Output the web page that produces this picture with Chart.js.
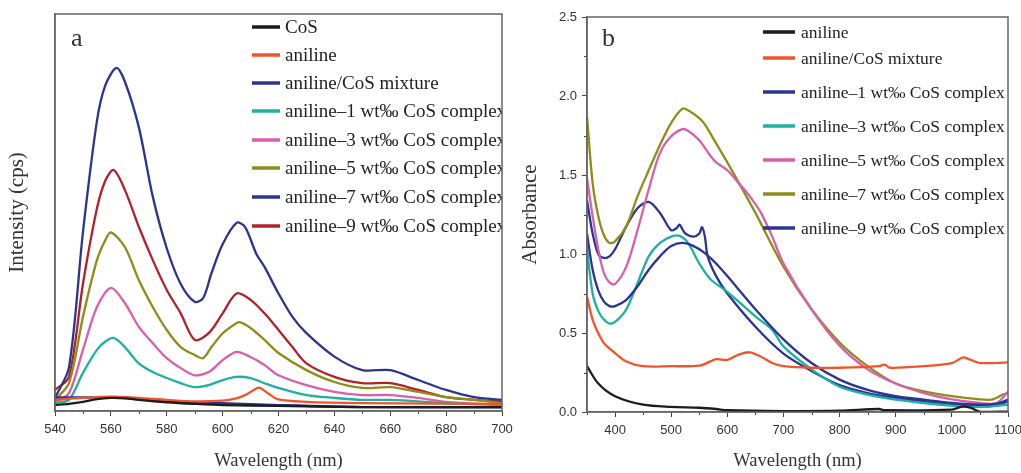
<!DOCTYPE html>
<html>
<head>
<meta charset="utf-8">
<script src="https://cdn.jsdelivr.net/npm/chart.js@4.4.1/dist/chart.umd.min.js"></script>
<style>
  body { margin: 0; background: #fff; width: 1021px; height: 473px; overflow: hidden; position: relative; }
  .panel { position: absolute; top: 0; height: 473px; }
  #wrapA { left: 0; width: 525px; }
  #wrapB { left: 510px; width: 511px; }
</style>
</head>
<body>
<div class="panel" id="wrapA"><canvas id="chartA" width="525" height="473"></canvas></div>
<div class="panel" id="wrapB"><canvas id="chartB" width="511" height="473"></canvas></div>
<script>
// --- Panel a: fluorescence, [wavelength nm, intensity a.u.] ---
const labelsA = ['CoS', 'aniline', 'aniline/CoS mixture', 'aniline\u20131 wt\u2030 CoS complex',
    'aniline\u20133 wt\u2030 CoS complex', 'aniline\u20135 wt\u2030 CoS complex',
    'aniline\u20137 wt\u2030 CoS complex', 'aniline\u20139 wt\u2030 CoS complex'];
const cosA = [[540,1.5],[545,1.8],[550,2.3],[555,3],[560,3.3],[565,3.2],[570,2.8],[580,2.2],[590,1.8],[600,1.5],[620,1.3],[650,1],[700,1]];
const anilineA = [[540,2.8],[550,3.3],[560,3.6],[570,3.3],[580,2.8],[590,2.4],[600,2.6],[605,3.2],[608,4],[610,4.8],[613,5.9],[616,4.6],[620,2.9],[630,2.3],[650,2],[700,1.8]];
const mixtureA = [[540,3.4],[550,3.4],[560,3.5],[570,3],[580,2.4],[600,2],[620,1.5],[650,1],[700,0.9]];
const wt1A = [[540,2],[545,2.8],[550,9.6],[555,15.4],[558,17.5],[561,18.4],[565,16.1],[570,12],[575,9.8],[580,8.3],[585,7],[590,6],[595,6.5],[600,7.8],[605,8.6],[610,8.3],[615,7],[620,5.8],[630,4],[640,3.3],[650,2.8],[660,2.8],[680,2],[700,1.5]];
const wt3A = [[540,2.3],[545,4.5],[550,15.4],[555,26.2],[560,31],[565,27.2],[570,21.2],[575,17.1],[580,13.3],[585,10.8],[590,9],[595,9.8],[600,12.8],[605,14.9],[610,13.6],[615,11.6],[620,9],[630,6.5],[640,4.8],[650,4],[660,4],[670,3.3],[680,2.3],[700,1.5]];
const wt5A = [[540,2.8],[545,7],[550,23.7],[555,38],[558,43],[560,45],[565,41.3],[570,33],[575,26.2],[580,20.4],[585,16.1],[590,14.1],[593,13.3],[596,16.1],[600,19.6],[603,21.2],[606,22.4],[610,20.9],[615,17.9],[620,14.6],[630,10.3],[640,7.3],[650,5.8],[660,6],[670,4.8],[680,3.5],[690,2.8],[700,2]];
const wt7A = [[540,3.3],[545,11],[550,45],[555,73],[558,82],[562,86.4],[565,83],[570,71.5],[575,54],[580,41],[585,32],[590,27.5],[593,28.4],[596,34.7],[600,42],[605,47.4],[608,46.4],[612,39.7],[615,36.3],[620,29.6],[625,23.7],[630,19.6],[640,13.7],[650,10.3],[660,10.3],[670,7.8],[680,5.3],[690,3.5],[700,2.8]];
const wt9A = [[540,5.3],[545,8.6],[550,32],[555,51],[558,58],[561,60.7],[565,55.7],[570,46.4],[575,38],[580,30.5],[585,24.6],[590,17.9],[595,19.6],[600,24.6],[605,29.6],[610,28],[615,24.6],[620,20.4],[625,16.1],[630,12],[640,8.6],[650,7],[660,7],[670,5.3],[680,3.5],[690,2.8],[700,2.3]];

// --- Panel b: absorbance, [wavelength nm, absorbance] ---
const labelsB = ['aniline', 'aniline/CoS mixture', 'aniline\u20131 wt\u2030 CoS complex',
    'aniline\u20133 wt\u2030 CoS complex', 'aniline\u20135 wt\u2030 CoS complex',
    'aniline\u20137 wt\u2030 CoS complex', 'aniline\u20139 wt\u2030 CoS complex'];
const anilineB = [[350,0.29],[370,0.18],[400,0.10],[450,0.046],[500,0.032],[550,0.027],[580,0.019],[600,0.011],[700,0.006],[800,0.008],[870,0.019],[880,0.011],[1000,0.015],[1020,0.036],[1035,0.025],[1050,0.002],[1100,0.002]];
const mixtureB = [[350,0.73],[360,0.585],[370,0.5],[380,0.437],[400,0.373],[420,0.32],[450,0.29],[500,0.29],[550,0.293],[570,0.32],[580,0.335],[600,0.33],[620,0.363],[640,0.378],[660,0.35],[680,0.31],[700,0.29],[750,0.28],[800,0.28],[870,0.29],[880,0.3],[890,0.28],[950,0.29],[1000,0.31],[1020,0.346],[1030,0.335],[1050,0.31],[1100,0.314]];
const wt1B = [[350,1.13],[360,0.9],[370,0.77],[380,0.7],[390,0.67],[400,0.67],[420,0.71],[440,0.795],[460,0.9],[480,0.985],[500,1.05],[520,1.07],[540,1.05],[560,1.006],[580,0.94],[600,0.86],[650,0.65],[700,0.46],[750,0.31],[800,0.205],[850,0.14],[900,0.1],[950,0.078],[1000,0.057],[1050,0.046],[1080,0.053],[1100,0.078]];
const wt3B = [[350,1.03],[360,0.75],[370,0.64],[380,0.585],[390,0.56],[400,0.57],[420,0.65],[440,0.815],[460,0.985],[480,1.07],[500,1.11],[515,1.115],[530,1.07],[550,0.94],[570,0.84],[600,0.76],[650,0.605],[680,0.52],[700,0.415],[750,0.27],[800,0.16],[850,0.11],[900,0.078],[950,0.057],[1000,0.04],[1050,0.032],[1100,0.046]];
const wt5B = [[350,1.48],[360,1.24],[370,1.03],[380,0.88],[390,0.82],[400,0.81],[420,0.92],[440,1.15],[460,1.41],[480,1.64],[500,1.745],[520,1.79],[530,1.78],[550,1.72],[570,1.62],[580,1.58],[600,1.53],[620,1.45],[640,1.365],[660,1.26],[680,1.11],[700,0.94],[750,0.65],[800,0.42],[850,0.27],[900,0.18],[950,0.12],[1000,0.08],[1050,0.057],[1080,0.057],[1100,0.13]];
const wt7B = [[350,1.87],[360,1.45],[370,1.24],[380,1.12],[390,1.07],[400,1.08],[420,1.175],[440,1.365],[460,1.53],[480,1.69],[500,1.83],[520,1.92],[530,1.91],[550,1.86],[560,1.82],[580,1.7],[600,1.58],[650,1.26],[700,0.92],[750,0.65],[800,0.44],[850,0.29],[900,0.18],[950,0.13],[1000,0.1],[1050,0.08],[1070,0.078],[1080,0.09],[1090,0.11],[1100,0.12]];
const wt9B = [[350,1.34],[360,1.13],[370,1.0],[380,0.975],[390,0.985],[400,1.03],[420,1.175],[440,1.29],[460,1.33],[480,1.26],[500,1.15],[510,1.165],[515,1.185],[525,1.13],[540,1.11],[550,1.13],[555,1.17],[560,1.11],[565,0.985],[580,0.86],[600,0.75],[650,0.54],[700,0.37],[750,0.26],[800,0.17],[850,0.12],[900,0.089],[950,0.068],[1000,0.046],[1050,0.036],[1080,0.04],[1100,0.068]];

const BLACK = '#1c1c1c', ORANGE = '#f2542a', BLUE = '#2b3591', TEAL = '#1fb0a3',
      PINK = '#d85fae', OLIVE = '#8e8d17', RED = '#b3202a';

const serif = '"Liberation Serif", "DejaVu Serif", serif';
const sans = '"Liberation Sans", Arial, sans-serif';

function toPts(arr) { return arr.map(p => ({ x: p[0], y: p[1] })); }

function isMajor(v, step) { return Math.abs(v / step - Math.round(v / step)) < 1e-6; }

// legend inside the plot, box frame and short minor ticks
const decorPlugin = {
    id: 'decor',
    afterDraw(chart, args, o) {
        const ctx = chart.ctx, a = chart.chartArea;
        ctx.save();
        // minor ticks
        ctx.strokeStyle = '#444';
        ctx.lineWidth = 1;
        const xs = chart.scales.x;
        xs.ticks.forEach(t => {
            if (isMajor(t.value, o.xMajor)) return;
            const px = Math.round(xs.getPixelForValue(t.value)) + 0.5;
            ctx.beginPath(); ctx.moveTo(px, a.bottom); ctx.lineTo(px, a.bottom + 3); ctx.stroke();
        });
        if (o.yMajor) {
            const ys = chart.scales.y;
            ys.ticks.forEach(t => {
                if (isMajor(t.value, o.yMajor)) return;
                const py = Math.round(ys.getPixelForValue(t.value)) + 0.5;
                ctx.beginPath(); ctx.moveTo(a.left, py); ctx.lineTo(a.left - 3, py); ctx.stroke();
            });
        }
        // legend
        ctx.save();
        ctx.beginPath(); ctx.rect(a.left, a.top, a.right - a.left, a.bottom - a.top); ctx.clip();
        ctx.font = o.font;
        ctx.textBaseline = 'middle';
        chart.data.datasets.forEach((ds, i) => {
            const y = o.rows[i];
            ctx.strokeStyle = ds.borderColor;
            ctx.lineWidth = 3.5;
            ctx.beginPath(); ctx.moveTo(o.x0, y); ctx.lineTo(o.x1, y); ctx.stroke();
            ctx.fillStyle = '#222';
            ctx.fillText(ds.label, o.tx, y + 1);
        });
        ctx.restore();
        // panel letter
        ctx.font = '26px ' + serif;
        ctx.fillStyle = '#333';
        ctx.textBaseline = 'alphabetic';
        ctx.fillText(o.letter, o.letterX, o.letterY);
        // frame
        ctx.strokeStyle = '#666';
        ctx.lineWidth = 1.5;
        ctx.strokeRect(a.left, a.top, a.right - a.left, a.bottom - a.top);
        ctx.restore();
    }
};

function makeDatasets(series, labels, colors) {
    return series.map((s, i) => ({
        label: labels[i],
        data: toPts(s),
        borderColor: colors[i],
        borderWidth: 2.3,
        pointRadius: 0,
        tension: 0.3,
        fill: false
    }));
}

function xAxis(min, max, step, major, height) {
    return {
        type: 'linear', min: min, max: max,
        ticks: {
            stepSize: step, color: '#333', padding: 6,
            font: { family: sans, size: 13 },
            maxRotation: 0, autoSkip: false,
            callback: v => isMajor(v, major) && v !== 350 ? String(v) : ''
        },
        grid: {
            drawOnChartArea: false, drawTicks: true, tickLength: 5,
            tickColor: c => isMajor(c.tick.value, major) ? '#444' : 'rgba(0,0,0,0)'
        },
        border: { display: true, color: '#666', width: 1.5 },
        title: { display: true, text: 'Wavelength (nm)', color: '#333',
                 font: { family: serif, size: 18.5 }, padding: { top: 0, bottom: 1 } },
        afterFit: s => { s.height = height; s.paddingLeft = 0; s.paddingRight = 0; }
    };
}

new Chart(document.getElementById('chartA').getContext('2d'), {
    type: 'line',
    data: {
        datasets: makeDatasets(
            [cosA, anilineA, mixtureA, wt1A, wt3A, wt5A, wt7A, wt9A], labelsA,
            [BLACK, ORANGE, BLUE, TEAL, PINK, OLIVE, BLUE, RED])
    },
    options: {
        responsive: false,
        animation: false,
        layout: { padding: { top: 14, right: 23, left: 0, bottom: 0 } },
        plugins: {
            legend: { display: false },
            tooltip: { enabled: false },
            decor: { xMajor: 20, rows: [27, 55, 83, 111, 140, 168, 197, 226],
                     x0: 252, x1: 280, tx: 285, font: '19px ' + serif,
                     letter: 'a', letterX: 71, letterY: 46 }
        },
        scales: {
            x: xAxis(540, 700, 10, 20, 62),
            y: {
                type: 'linear', min: 0, max: 100,
                ticks: { display: false },
                grid: { display: false },
                border: { display: true, color: '#666', width: 1.5 },
                title: { display: true, text: 'Intensity (cps)', color: '#333',
                         font: { family: serif, size: 21 }, padding: { top: 5, bottom: 0 } },
                afterFit: s => { s.width = 55; s.paddingTop = 0; s.paddingBottom = 0; }
            }
        }
    },
    plugins: [decorPlugin]
});

new Chart(document.getElementById('chartB').getContext('2d'), {
    type: 'line',
    data: {
        datasets: makeDatasets(
            [anilineB, mixtureB, wt1B, wt3B, wt5B, wt7B, wt9B], labelsB,
            [BLACK, ORANGE, BLUE, TEAL, PINK, OLIVE, BLUE])
    },
    options: {
        responsive: false,
        animation: false,
        layout: { padding: { top: 17, right: 13, left: 0, bottom: 0 } },
        plugins: {
            legend: { display: false },
            tooltip: { enabled: false },
            decor: { xMajor: 100, yMajor: 0.5, rows: [32, 58, 92, 126, 160, 194, 228],
                     x0: 253, x1: 285, tx: 291, font: '17.5px ' + serif,
                     letter: 'b', letterX: 92, letterY: 46 }
        },
        scales: {
            x: xAxis(350, 1100, 50, 100, 61),
            y: {
                type: 'linear', min: 0, max: 2.5,
                ticks: {
                    stepSize: 0.25, color: '#333', padding: 5,
                    font: { family: sans, size: 13 },
                    callback: v => isMajor(v, 0.5) ? v.toFixed(1) : ''
                },
                grid: {
                    drawOnChartArea: false, drawTicks: true, tickLength: 5,
                    tickColor: c => isMajor(c.tick.value, 0.5) ? '#444' : 'rgba(0,0,0,0)'
                },
                border: { display: true, color: '#666', width: 1.5 },
                title: { display: true, text: 'Absorbance', color: '#333',
                         font: { family: serif, size: 21 }, padding: { top: 8, bottom: 0 } },
                afterFit: s => { s.width = 77; s.paddingTop = 0; s.paddingBottom = 0; }
            }
        }
    },
    plugins: [decorPlugin]
});
</script>
</body>
</html>
